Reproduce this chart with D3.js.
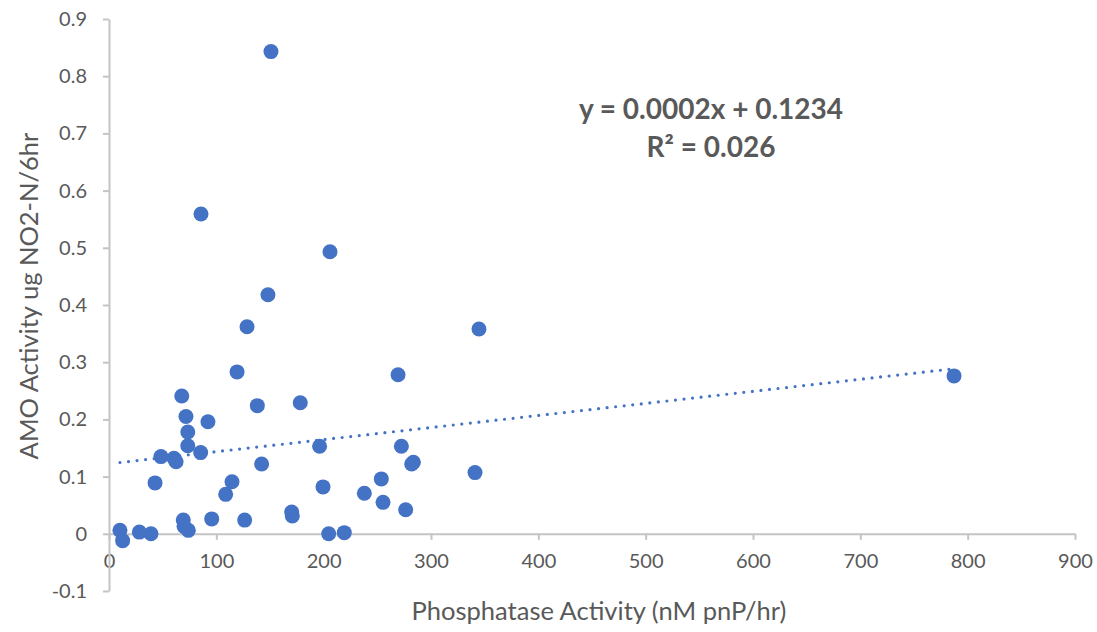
<!DOCTYPE html>
<html>
<head>
<meta charset="utf-8">
<script src="https://cdn.jsdelivr.net/npm/d3@7"></script>
<style>
  body { margin: 0; background: #fff; }
  svg { display: block; font-family: Lato, "Open Sans", sans-serif; }
</style>
</head>
<body>
<div id="chart"></div>
<script>
// Phosphatase activity (nM pnP/hr) vs AMO activity (ug NO2-N/6hr)
const phosphatase = [
  150.9, 85.7, 205.9, 148.1, 128.6, 344.7, 119.3, 269.3, 787.3, 67.8,
  178.2, 138.2, 71.7, 92.2, 73.4, 73.4, 196.2, 272.4, 85.4, 48.4,
  60.5, 62.5, 142.2, 283.6, 282.0, 341.0, 42.9, 114.6, 108.7, 199.4,
  253.7, 237.9, 255.3, 276.4, 170.2, 170.8, 69.2, 69.9, 73.9, 95.7,
  126.4, 10.2, 12.7, 28.3, 39.1, 204.7, 219.2
];
const amo = [
  0.843, 0.559, 0.493, 0.418, 0.362, 0.358, 0.283, 0.278, 0.276, 0.241,
  0.229, 0.224, 0.205, 0.196, 0.178, 0.154, 0.153, 0.153, 0.142, 0.135,
  0.132, 0.126, 0.122, 0.125, 0.122, 0.107, 0.089, 0.091, 0.069, 0.082,
  0.096, 0.071, 0.055, 0.042, 0.038, 0.031, 0.024, 0.013, 0.006, 0.026,
  0.024, 0.006, -0.012, 0.003, 0.000, 0.000, 0.002
];
const xTicks = [0, 100, 200, 300, 400, 500, 600, 700, 800, 900];
const yTicks = [-0.1, 0, 0.1, 0.2, 0.3, 0.4, 0.5, 0.6, 0.7, 0.8, 0.9];

// linear trendline as drawn (label shows rounded values)
const trendSlope = 0.000211;
const trendIntercept = 0.1225;
const equationLines = ["y = 0.0002x + 0.1234", "R² = 0.026"];

const width = 1097, height = 632;
const blue = "#4472C4", axisGrey = "#c4c4c4", textGrey = "#595959";

const svg = d3.select("#chart").append("svg")
  .attr("width", width)
  .attr("height", height);

const x = d3.scaleLinear().domain([0, 900]).range([109, 1075]);
const y = d3.scaleLinear().domain([-0.1, 0.9]).range([591, 19]);

// x axis sits on y = 0
const xAxis = svg.append("g")
  .attr("transform", `translate(0,${y(0)})`)
  .call(d3.axisBottom(x).tickValues(xTicks).tickSize(6).tickSizeOuter(0).tickPadding(14));

const yAxis = svg.append("g")
  .attr("transform", `translate(${x(0)},0)`)
  .call(d3.axisLeft(y).tickValues(yTicks).tickSize(6).tickSizeOuter(0).tickPadding(16)
    .tickFormat(d => String(+d.toFixed(1))));

[xAxis, yAxis].forEach(g => {
  g.selectAll("path, line").attr("stroke", axisGrey).attr("stroke-width", 2);
  g.selectAll("text")
    .attr("fill", textGrey)
    .style("font-size", "20px")
    .style("font-family", "Lato, sans-serif");
});

// points
const points = phosphatase.map((p, i) => ({ x: p, y: amo[i] }));

svg.append("g")
  .selectAll("circle")
  .data(points)
  .join("circle")
  .attr("cx", d => x(d.x))
  .attr("cy", d => y(d.y))
  .attr("r", 7.5)
  .attr("fill", blue);

// dotted trendline across the data range
const xExtent = d3.extent(phosphatase);
svg.append("line")
  .attr("x1", x(xExtent[0]))
  .attr("y1", y(trendSlope * xExtent[0] + trendIntercept))
  .attr("x2", x(xExtent[1]))
  .attr("y2", y(trendSlope * xExtent[1] + trendIntercept))
  .attr("stroke", blue)
  .attr("stroke-width", 3.2)
  .attr("stroke-linecap", "round")
  .attr("stroke-dasharray", "0 8.6");

// equation label
svg.append("g")
  .selectAll("text")
  .data(equationLines)
  .join("text")
  .attr("x", 711)
  .attr("y", (d, i) => 119 + i * 38)
  .attr("text-anchor", "middle")
  .attr("fill", textGrey)
  .style("font-size", "28px")
  .style("font-weight", "bold")
  .text(d => d);

// axis titles
svg.append("text")
  .attr("x", 599)
  .attr("y", 620)
  .attr("text-anchor", "middle")
  .attr("fill", textGrey)
  .style("font-size", "25.5px")
  .text("Phosphatase Activity (nM pnP/hr)");

svg.append("text")
  .attr("transform", "translate(38,296) rotate(-90)")
  .attr("text-anchor", "middle")
  .attr("fill", textGrey)
  .style("font-size", "25.5px")
  .text("AMO Activity ug NO2-N/6hr");
</script>
</body>
</html>
